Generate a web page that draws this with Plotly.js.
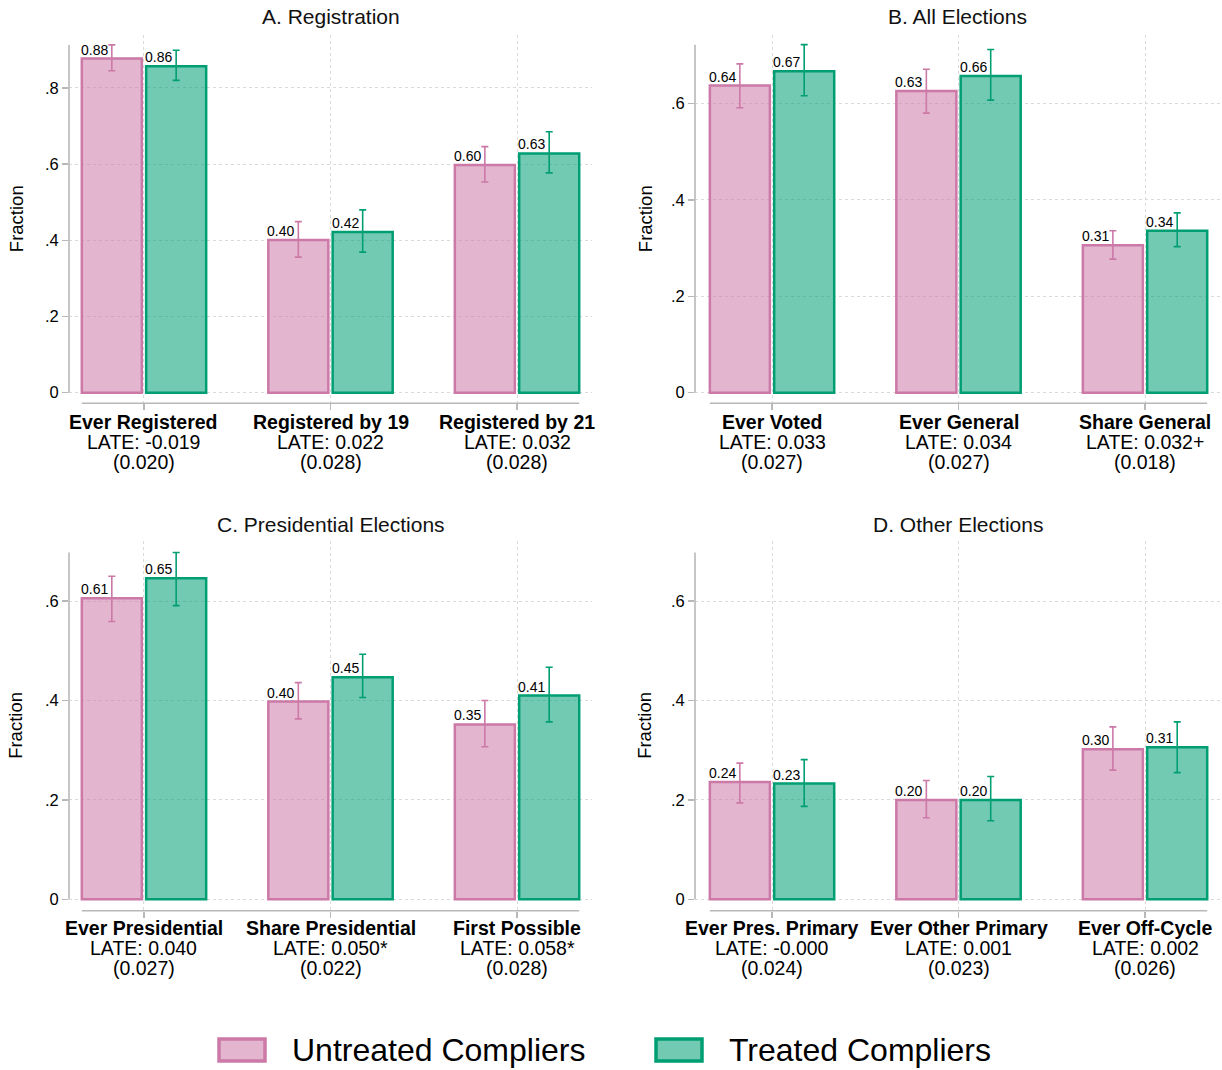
<!DOCTYPE html>
<html>
<head>
<meta charset="utf-8">
<script src="https://cdn.plot.ly/plotly-3.0.1.min.js"></script>
<style>html,body{margin:0;padding:0;background:#fff;}#chart{width:1222px;height:1070px;}</style>
</head>
<body>
<div id="chart"></div>
<script>
// ---------------- DATA ----------------
const panelTitles = ['A. Registration', 'B. All Elections', 'C. Presidential Elections', 'D. Other Elections'];
const seriesNames = ['Untreated Compliers', 'Treated Compliers'];

const catsA = ['Ever Registered', 'Registered by 19', 'Registered by 21'];
const lateA = ['LATE: -0.019', 'LATE: 0.022', 'LATE: 0.032'];
const seA = ['(0.020)', '(0.028)', '(0.028)'];
const untreatedA = [0.877, 0.401, 0.598];
const untreatedA_lo = [0.845, 0.356, 0.553];
const untreatedA_hi = [0.913, 0.449, 0.646];
const treatedA = [0.857, 0.422, 0.628];
const treatedA_lo = [0.820, 0.369, 0.577];
const treatedA_hi = [0.899, 0.480, 0.685];

const catsB = ['Ever Voted', 'Ever General', 'Share General'];
const lateB = ['LATE: 0.033', 'LATE: 0.034', 'LATE: 0.032+'];
const seB = ['(0.027)', '(0.027)', '(0.018)'];
const untreatedB = [0.637, 0.626, 0.306];
const untreatedB_lo = [0.591, 0.580, 0.277];
const untreatedB_hi = [0.682, 0.671, 0.336];
const treatedB = [0.667, 0.657, 0.336];
const treatedB_lo = [0.616, 0.607, 0.303];
const treatedB_hi = [0.722, 0.712, 0.373];

const catsC = ['Ever Presidential', 'Share Presidential', 'First Possible'];
const lateC = ['LATE: 0.040', 'LATE: 0.050*', 'LATE: 0.058*'];
const seC = ['(0.027)', '(0.022)', '(0.028)'];
const untreatedC = [0.606, 0.398, 0.352];
const untreatedC_lo = [0.559, 0.363, 0.307];
const untreatedC_hi = [0.650, 0.436, 0.400];
const treatedC = [0.646, 0.447, 0.410];
const treatedC_lo = [0.591, 0.406, 0.357];
const treatedC_hi = [0.698, 0.493, 0.467];

const catsD = ['Ever Pres. Primary', 'Ever Other Primary', 'Ever Off-Cycle'];
const lateD = ['LATE: -0.000', 'LATE: 0.001', 'LATE: 0.002'];
const seD = ['(0.024)', '(0.023)', '(0.026)'];
const untreatedD = [0.236, 0.200, 0.302];
const untreatedD_lo = [0.194, 0.164, 0.260];
const untreatedD_hi = [0.274, 0.239, 0.347];
const treatedD = [0.233, 0.200, 0.306];
const treatedD_lo = [0.187, 0.158, 0.255];
const treatedD_hi = [0.281, 0.247, 0.357];

const yTicksA = [0, 0.2, 0.4, 0.6, 0.8];
const yTicksBCD = [0, 0.2, 0.4, 0.6];

// ---------------- STYLE / LAYOUT ----------------
const W = 1222, H = 1070;
const FONT = 'Liberation Sans, Arial, Helvetica, sans-serif';
const PINK = 'rgb(204,121,167)', PINK_FILL = 'rgba(204,121,167,0.55)';
const GREEN = 'rgb(0,158,115)', GREEN_FILL = 'rgba(0,158,115,0.55)';
const AXC = '#b8b8b8', GRIDC = '#dadada';
const BARGAP = 0.31, BARGROUPGAP = 0.067;
const SLOT = (1 - BARGAP) / 2, BW = SLOT * (1 - BARGROUPGAP);

const panels = [
  {cats: catsA, late: lateA, se: seA, u: untreatedA, ul: untreatedA_lo, uh: untreatedA_hi, t: treatedA, tl: treatedA_lo, th: treatedA_hi, ticks: yTicksA},
  {cats: catsB, late: lateB, se: seB, u: untreatedB, ul: untreatedB_lo, uh: untreatedB_hi, t: treatedB, tl: treatedB_lo, th: treatedB_hi, ticks: yTicksBCD},
  {cats: catsC, late: lateC, se: seC, u: untreatedC, ul: untreatedC_lo, uh: untreatedC_hi, t: treatedC, tl: treatedC_lo, th: treatedC_hi, ticks: yTicksBCD},
  {cats: catsD, late: lateD, se: seD, u: untreatedD, ul: untreatedD_lo, uh: untreatedD_hi, t: treatedD, tl: treatedD_lo, th: treatedD_hi, ticks: yTicksBCD}
];

// pixel geometry of each panel
const geom = [
  {px: [69, 592], py: [35, 403.3], xr: [-0.402, 2.402], yr: [-0.0278, 0.939], titleY: 17, ytX: 16, lab: [-18.4, -38.4, -58.4]},
  {px: [695, 1220], py: [35, 403.3], xr: [-0.413, 2.402], yr: [-0.022, 0.742], titleY: 17, ytX: 645, lab: [-18.4, -38.4, -58.4]},
  {px: [69, 592], py: [541, 910.7], xr: [-0.402, 2.402], yr: [-0.0229, 0.721], titleY: 524, ytX: 16, lab: [-17.6, -37.6, -57.6]},
  {px: [695, 1220], py: [541, 910.7], xr: [-0.413, 2.402], yr: [-0.0229, 0.721], titleY: 524, ytX: 645, lab: [-17.6, -37.6, -57.6]}
];

const maxArr = a => Math.max.apply(null, a);
const topCD = Math.max(maxArr(untreatedC_hi), maxArr(treatedC_hi), maxArr(untreatedD_hi), maxArr(treatedD_hi));
const axisTop = [
  Math.max(maxArr(untreatedA_hi), maxArr(treatedA_hi)),
  Math.max(maxArr(untreatedB_hi), maxArr(treatedB_hi)),
  topCD, topCD
];

const traces = [];
const annotations = [];
const shapes = [];
const layout = {
  width: W, height: H,
  margin: {l: 0, r: 0, t: 0, b: 0},
  paper_bgcolor: '#fff', plot_bgcolor: 'rgba(0,0,0,0)',
  barmode: 'group', bargap: BARGAP, bargroupgap: BARGROUPGAP,
  showlegend: false,
  font: {family: FONT, color: '#000'}
};

panels.forEach((p, k) => {
  const g = geom[k];
  const xs = k === 0 ? '' : String(k + 1);
  const xa = 'x' + xs, ya = 'y' + xs;
  const idx = p.cats.map((_, i) => i);

  const mk = (vals, lo, hi, name, line, fill) => ({
    type: 'bar', x: idx, y: vals, name: name, xaxis: xa, yaxis: ya,
    marker: {color: fill, line: {color: line, width: 2.5}},
    error_y: {type: 'data', symmetric: false,
      array: vals.map((v, i) => hi[i] - v),
      arrayminus: vals.map((v, i) => v - lo[i]),
      color: line, thickness: 1.6, width: 3.5},
    hoverinfo: 'skip'
  });
  traces.push(mk(p.u, p.ul, p.uh, seriesNames[0], PINK, PINK_FILL));
  traces.push(mk(p.t, p.tl, p.th, seriesNames[1], GREEN, GREEN_FILL));

  layout['xaxis' + xs] = {
    domain: [g.px[0] / W, g.px[1] / W], range: g.xr, anchor: ya,
    tickvals: idx, showticklabels: false, ticks: 'outside', ticklen: 6, tickwidth: 1.3, tickcolor: AXC,
    showgrid: true, gridcolor: GRIDC, griddash: 'dot', gridwidth: 1,
    showline: false, zeroline: false, fixedrange: true
  };
  layout['yaxis' + xs] = {
    domain: [1 - g.py[1] / H, 1 - g.py[0] / H], range: g.yr, anchor: xa,
    tickvals: p.ticks, ticktext: p.ticks.map(v => v === 0 ? '0' : String(v).replace(/^0/, '')),
    ticks: 'outside', ticklen: 6, tickwidth: 1.3, tickcolor: AXC,
    tickfont: {size: 16.5, family: FONT, color: '#000'},
    showgrid: true, gridcolor: GRIDC, griddash: 'dot', gridwidth: 1,
    showline: false, zeroline: false, fixedrange: true
  };

  // y axis line from 0 to the top of the data range
  shapes.push({type: 'line', xref: xa + ' domain', yref: ya, x0: 0, x1: 0, y0: 0, y1: axisTop[k],
    line: {color: AXC, width: 1.6}});
  // x axis line spanning the bars
  shapes.push({type: 'line', xref: xa, yref: ya + ' domain',
    x0: idx[0] - SLOT / 2 - BW / 2, x1: idx[idx.length - 1] + SLOT / 2 + BW / 2, y0: 0, y1: 0,
    line: {color: AXC, width: 1.6}});

  // panel title
  annotations.push({xref: 'paper', yref: 'paper', x: (g.px[0] + g.px[1]) / 2 / W, y: 1 - g.titleY / H,
    xanchor: 'center', yanchor: 'middle', showarrow: false, text: panelTitles[k],
    font: {size: 21, family: FONT, color: '#111'}});
  // y axis title
  annotations.push({xref: 'paper', yref: 'paper', x: g.ytX / W, y: 1 - (g.py[0] + g.py[1]) / 2 / H,
    xanchor: 'center', yanchor: 'middle', showarrow: false, text: 'Fraction', textangle: -90,
    font: {size: 18.5, family: FONT, color: '#000'}});

  // category labels (3 lines)
  idx.forEach(i => {
    [['<b>' + p.cats[i] + '</b>', g.lab[0]], [p.late[i], g.lab[1]], [p.se[i], g.lab[2]]].forEach(([txt, sh]) => {
      annotations.push({xref: xa, yref: ya + ' domain', x: i, y: 0, yshift: sh,
        xanchor: 'center', yanchor: 'middle', showarrow: false, text: txt,
        font: {size: 19.5, family: FONT, color: '#000'}});
    });
    // value labels above bars, left aligned with each bar
    [[p.u[i], -SLOT / 2], [p.t[i], SLOT / 2]].forEach(([v, off]) => {
      annotations.push({xref: xa, yref: ya, x: i + off - BW / 2, y: v, xshift: -3, yshift: -1,
        xanchor: 'left', yanchor: 'bottom', showarrow: false, text: v.toFixed(2),
        font: {size: 14, family: FONT, color: '#000'}});
    });
  });
});

// legend (drawn manually to match large swatches)
const legendItems = [
  {name: seriesNames[0], line: PINK, fill: PINK_FILL, x0: 219, x1: 265, tx: 290},
  {name: seriesNames[1], line: GREEN, fill: GREEN_FILL, x0: 656, x1: 702, tx: 727}
];
legendItems.forEach(it => {
  shapes.push({type: 'rect', xref: 'paper', yref: 'paper',
    x0: it.x0 / W, x1: it.x1 / W, y0: 1 - 1061 / H, y1: 1 - 1039 / H,
    fillcolor: it.fill, line: {color: it.line, width: 3.5}});
  annotations.push({xref: 'paper', yref: 'paper', x: it.tx / W, y: 1 - 1050 / H,
    xanchor: 'left', yanchor: 'middle', showarrow: false, text: it.name,
    font: {size: 32, family: FONT, color: '#000'}});
});

layout.shapes = shapes;
layout.annotations = annotations;

Plotly.newPlot('chart', traces, layout, {staticPlot: true, displayModeBar: false});
</script>
</body>
</html>
